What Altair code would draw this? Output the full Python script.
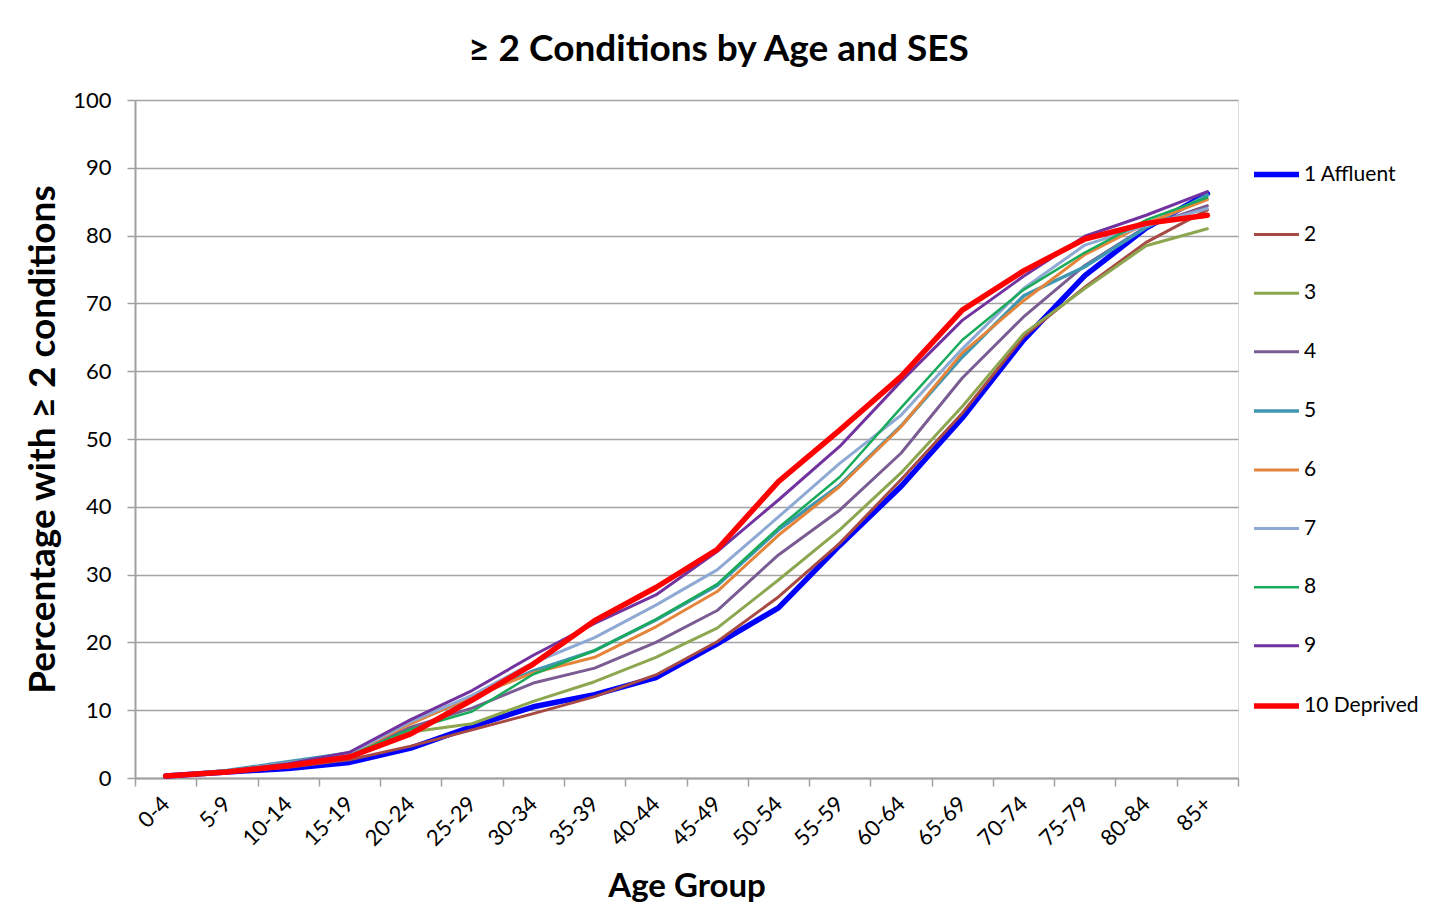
import altair as alt
import pandas as pd

age_groups = ["0-4", "5-9", "10-14", "15-19", "20-24", "25-29", "30-34", "35-39", "40-44",
              "45-49", "50-54", "55-59", "60-64", "65-69", "70-74", "75-79", "80-84", "85+"]
series_names = ["1 Affluent", "2", "3", "4", "5", "6", "7", "8", "9", "10 Deprived"]

s1 = [0.3, 0.9, 1.4, 2.3, 4.4, 7.6, 10.5, 12.3, 14.8, 19.8, 25.1, 34.3, 43.0, 53.1, 64.6, 74.1, 81.1, 86.2]
s2 = [0.3, 0.9, 1.6, 2.7, 4.7, 7.1, 9.5, 12.0, 15.2, 20.1, 26.7, 34.6, 44.0, 53.8, 65.1, 72.4, 79.0, 83.8]
s3 = [0.3, 1.0, 1.7, 3.0, 6.8, 8.0, 11.3, 14.2, 17.8, 22.1, 29.2, 36.6, 45.0, 54.8, 65.5, 72.2, 78.5, 81.0]
s4 = [0.3, 1.0, 2.0, 3.4, 7.5, 10.3, 14.0, 16.2, 20.0, 24.7, 32.9, 39.5, 47.9, 59.0, 68.0, 75.6, 81.3, 84.4]
s5 = [0.3, 1.1, 2.4, 3.7, 8.2, 11.8, 15.8, 18.8, 23.3, 28.4, 36.6, 43.2, 51.9, 62.1, 71.1, 75.4, 81.2, 86.0]
s6 = [0.3, 1.0, 2.2, 3.5, 8.0, 12.0, 15.5, 17.8, 22.3, 27.5, 35.8, 43.0, 51.8, 62.7, 70.4, 77.2, 81.8, 85.3]
s7 = [0.3, 1.0, 2.2, 3.6, 8.3, 12.2, 17.0, 20.7, 25.5, 30.7, 38.5, 46.4, 53.5, 63.3, 72.2, 78.6, 81.5, 84.0]
s8 = [0.3, 1.0, 2.0, 3.3, 7.2, 9.8, 15.3, 18.8, 23.4, 28.6, 36.9, 44.4, 54.6, 64.6, 72.0, 77.5, 82.3, 85.6]
s9 = [0.3, 1.0, 2.1, 3.8, 8.6, 12.9, 18.1, 22.8, 27.0, 33.4, 41.0, 48.9, 58.5, 67.5, 74.0, 79.9, 83.0, 86.5]
s10 = [0.3, 0.9, 1.8, 3.1, 6.5, 11.5, 16.8, 23.2, 28.1, 33.7, 43.7, 51.3, 59.2, 69.0, 74.8, 79.5, 81.8, 83.0]

colors = ["#0000FF", "#A84A44", "#8DA650", "#7A5C93", "#3F97B1",
          "#E5853B", "#8EA9D3", "#19AB5B", "#7232A0", "#FF0000"]
widths = [5.5, 3, 3, 3, 3.5, 3, 3, 2.5, 3, 5.5]

all_series = [s1, s2, s3, s4, s5, s6, s7, s8, s9, s10]
rows = []
for name, vals in zip(series_names, all_series):
    for a, v in zip(age_groups, vals):
        rows.append({"series": name, "age": a, "value": v})
df = pd.DataFrame(rows)

FONT = "Lato"

legend_props = dict(
    title=None, orient="none", legendX=1116, legendY=49,
    symbolType="stroke", symbolSize=2025, labelFontSize=21, labelFont=FONT,
    labelColor="#000000", rowPadding=24.6, labelOffset=2, padding=0,
)

chart = alt.Chart(df).mark_line(strokeCap="round", strokeJoin="round").encode(
    x=alt.X("age:N", sort=age_groups, bandPosition=0.5,
            scale=alt.Scale(type="band", paddingInner=0, paddingOuter=0),
            axis=alt.Axis(title="Age Group", tickBand="extent", labelAngle=-45,
                          labelAlign="right", labelBaseline="middle",
                          labelFontSize=22, labelFont=FONT, labelColor="#000000",
                          labelPadding=14, tickSize=8, tickColor="#A0A0A0", tickWidth=1.5,
                          domainColor="#A0A0A0", domainWidth=2,
                          titleFontSize=33, titleFont=FONT, titleFontWeight="bold",
                          titleColor="#000000", titlePadding=21, grid=False)),
    y=alt.Y("value:Q", scale=alt.Scale(domain=[0, 100], nice=False),
            axis=alt.Axis(title="Percentage with ≥ 2 conditions", values=list(range(0, 101, 10)),
                          labelFontSize=22, labelFont=FONT, labelColor="#000000",
                          labelPadding=16, tickSize=8, tickColor="#A0A0A0", tickWidth=1.5,
                          domainColor="#A0A0A0", domainWidth=2,
                          gridColor="#A3A3A3", gridWidth=1.5,
                          titleFontSize=37, titleFont=FONT, titleFontWeight="bold",
                          titleColor="#000000", titlePadding=10)),
    color=alt.Color("series:N", sort=series_names,
                    scale=alt.Scale(domain=series_names, range=colors),
                    legend=alt.Legend(**legend_props)),
    strokeWidth=alt.StrokeWidth("series:N", sort=series_names,
                                scale=alt.Scale(type="ordinal", domain=series_names, range=widths),
                                legend=alt.Legend(**legend_props)),
    order=alt.Order("series_idx:Q"),
).transform_calculate(
    series_idx="indexof(" + str(series_names) + ", datum.series)"
).properties(
    width=1103, height=678,
    title=alt.Title("≥ 2 Conditions by Age and SES", fontSize=37, font=FONT,
                    fontWeight="bold", color="#000000", dx=32, offset=20),
    autosize=alt.AutoSizeParams(type="none"),
    padding={"left": 127, "top": 92, "right": 183, "bottom": 125},
).configure_view(
    fill="#EEEBE0", stroke="#5B8BD0", strokeWidth=1
).configure(background="#FFFFFF")

chart.save("out.html", embed_options={"renderer": "svg", "actions": False})
